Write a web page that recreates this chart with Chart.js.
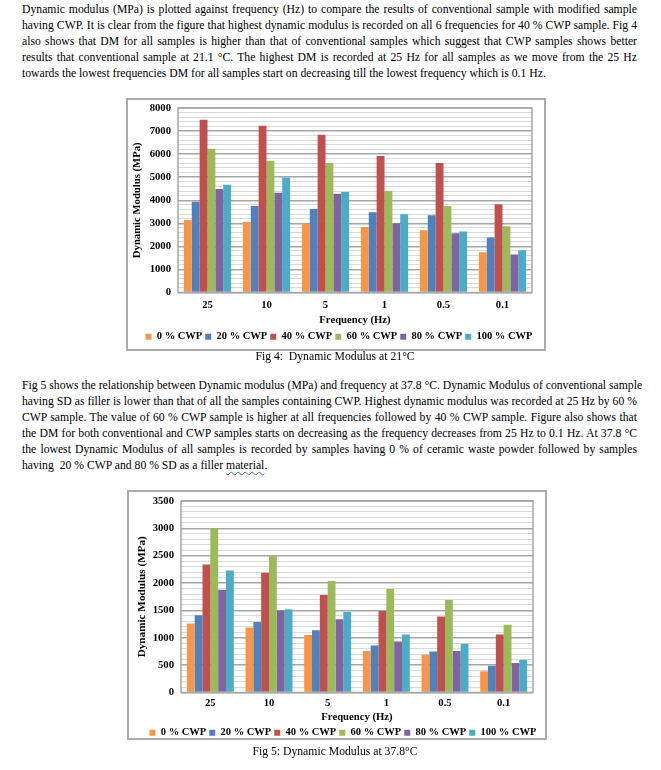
<!DOCTYPE html>
<html><head><meta charset="utf-8">
<script src="https://cdn.jsdelivr.net/npm/chart.js@4.4.1/dist/chart.umd.min.js"></script>
<style>
html,body{margin:0;padding:0;background:#fff;}
body{width:661px;height:770px;position:relative;overflow:hidden;font-family:"Liberation Serif","Times New Roman",serif;color:#000;}
.para{position:absolute;left:22px;width:615px;font-size:11.7px;line-height:16px;}
.para div{text-align:justify;text-align-last:justify;white-space:nowrap;}
.para div.last{text-align-last:left;}
.box{position:absolute;border:2px solid #ABABAB;box-sizing:border-box;}
.cv{position:absolute;}
.cap{position:absolute;left:185px;width:300px;text-align:center;font-size:11.7px;line-height:16px;}
.wavy{text-decoration:underline wavy #4472C4;text-decoration-thickness:1px;text-underline-offset:2px;}
</style>
</head><body>

<div class="para" style="top:2px;">
<div>Dynamic modulus (MPa) is plotted against frequency (Hz) to compare the results of conventional sample with modified sample</div>
<div>having CWP. It is clear from the figure that highest dynamic modulus is recorded on all 6 frequencies for 40 % CWP sample. Fig 4</div>
<div>also shows that DM for all samples is higher than that of conventional samples which suggest that CWP samples shows better</div>
<div>results that conventional sample at 21.1 °C. The highest DM is recorded at 25 Hz for all samples as we move from the 25 Hz</div>
<div class="last">towards the lowest frequencies DM for all samples start on decreasing till the lowest frequency which is 0.1 Hz.</div>
</div>

<div class="box" style="left:126px;top:98px;width:420px;height:253px;"></div>
<canvas id="c1" class="cv" width="416" height="252" style="left:128px;top:100px;"></canvas>
<div class="cap" style="top:349px;">Fig 4:&nbsp; Dynamic Modulus at 21°C</div>

<div class="para" style="top:378px;">
<div>Fig 5 shows the relationship between Dynamic modulus (MPa) and frequency at 37.8 °C. Dynamic Modulus of conventional sample</div>
<div>having SD as filler is lower than that of all the samples containing CWP. Highest dynamic modulus was recorded at 25 Hz by 60 %</div>
<div>CWP sample. The value of 60 % CWP sample is higher at all frequencies followed by 40 % CWP sample. Figure also shows that</div>
<div>the DM for both conventional and CWP samples starts on decreasing as the frequency decreases from 25 Hz to 0.1 Hz. At 37.8 °C</div>
<div>the lowest Dynamic Modulus of all samples is recorded by samples having 0 % of ceramic waste powder followed by samples</div>
<div class="last">having&nbsp; 20 % CWP and 80 % SD as a filler <span class="wavy">material</span>.</div>
</div>

<div class="box" style="left:127px;top:490px;width:420px;height:250px;"></div>
<canvas id="c2" class="cv" width="416" height="256" style="left:129px;top:492px;"></canvas>
<div class="cap" style="top:744px;">Fig 5: Dynamic Modulus at 37.8°C</div>

<script>
// ---- data ----
const categories = ['25', '10', '5', '1', '0.5', '0.1'];
const seriesNames = ['0 % CWP', '20 % CWP', '40 % CWP', '60 % CWP', '80 % CWP', '100 % CWP'];

// Fig 4: Dynamic Modulus at 21°C (MPa)
const fig4_cwp0   = [3140, 3060, 2990, 2840, 2700, 1750];
const fig4_cwp20  = [3930, 3750, 3620, 3480, 3350, 2390];
const fig4_cwp40  = [7490, 7230, 6840, 5920, 5610, 3830];
const fig4_cwp60  = [6230, 5710, 5620, 4400, 3750, 2870];
const fig4_cwp80  = [4490, 4320, 4280, 3000, 2570, 1650];
const fig4_cwp100 = [4670, 4990, 4360, 3390, 2650, 1830];

// Fig 5: Dynamic Modulus at 37.8°C (MPa)
const fig5_cwp0   = [1260, 1190, 1050, 760, 690, 390];
const fig5_cwp20  = [1410, 1290, 1140, 860, 750, 490];
const fig5_cwp40  = [2340, 2190, 1780, 1490, 1390, 1060];
const fig5_cwp60  = [3000, 2490, 2040, 1890, 1690, 1240];
const fig5_cwp80  = [1880, 1500, 1340, 930, 760, 540];
const fig5_cwp100 = [2230, 1520, 1470, 1060, 890, 600];

// axis tick settings
const fig4Axis = {max: 8000, major: 1000, minor: 200};
const fig5Axis = {max: 3500, major: 500, minor: 100};

// ---- style ----
const palette = ['#F79646', '#4F81BD', '#C0504D', '#9BBB59', '#8064A2', '#4BACC6'];
const FONT = '"Liberation Serif","Times New Roman",serif';

const framePlugin = {
  id: 'frame',
  afterLayout(chart, args, opts) {
    const dx = opts.legendShift || 0;
    if (chart.legend) { chart.legend.left += dx; chart.legend.right += dx; }
  },
  afterDatasetsDraw(chart) {
    const a = chart.chartArea, ctx = chart.ctx;
    ctx.save();
    ctx.strokeStyle = '#A6A6A6';
    ctx.lineWidth = 1.5;
    ctx.strokeRect(a.left, a.top, a.right - a.left, a.bottom - a.top);
    ctx.restore();
  }
};

function makeChart(id, series, axis, geo) {
  return new Chart(document.getElementById(id), {
    type: 'bar',
    data: {
      labels: categories,
      datasets: series.map((d, i) => ({
        label: seriesNames[i],
        data: d,
        backgroundColor: palette[i],
        borderWidth: 0,
        categoryPercentage: 0.8,
        barPercentage: 1.0
      }))
    },
    plugins: [framePlugin],
    options: {
      responsive: false,
      animation: false,
      layout: {padding: {left: 0, top: geo.top, right: geo.right, bottom: 0}},
      plugins: {
        frame: {legendShift: geo.legendShift},
        tooltip: {enabled: false},
        legend: {
          position: 'bottom',
          labels: {
            boxWidth: 6, boxHeight: 6, padding: 3,
            color: '#000',
            font: {family: FONT, size: 10.5, weight: 'bold'}
          }
        }
      },
      scales: {
        x: {
          grid: {display: false, drawTicks: false},
          border: {display: false},
          ticks: {color: '#000', padding: geo.xTickPad, font: {family: FONT, size: 10.7, weight: 'bold'}},
          title: {display: true, text: 'Frequency (Hz)', color: '#000', padding: {top: 0, bottom: geo.xTitlePad},
                  font: {family: FONT, size: 10.7, weight: 'bold'}},
          afterFit(s) { s.height = geo.xHeight; }
        },
        y: {
          min: 0, max: axis.max,
          grid: {
            drawTicks: false,
            color: c => (c.tick && c.tick.value % axis.major === 0) ? '#A6A6A6' : '#D9D9D9',
            lineWidth: c => (c.tick && c.tick.value % axis.major === 0) ? 1.5 : 1
          },
          border: {display: false},
          ticks: {
            stepSize: axis.minor, autoSkip: false, color: '#000', padding: 7,
            font: {family: FONT, size: 10.7, weight: 'bold'},
            callback: v => (v % axis.major === 0) ? String(v) : ''
          },
          title: {display: true, text: 'Dynamic Modulus (MPa)', color: '#000', padding: {top: geo.yTitlePad, bottom: 0},
                  font: {family: FONT, size: geo.yTitleSize, weight: 'bold'}},
          afterFit(s) { s.width = geo.yWidth; s.paddingTop = 0; s.paddingBottom = 0; }
        }
      }
    }
  });
}

makeChart('c1', [fig4_cwp0, fig4_cwp20, fig4_cwp40, fig4_cwp60, fig4_cwp80, fig4_cwp100], fig4Axis,
  {top: 8, right: 12, xHeight: 36, xTickPad: 6, xTitlePad: 2, yWidth: 50, yTitlePad: 3, yTitleSize: 10.7, legendShift: 9});
makeChart('c2', [fig5_cwp0, fig5_cwp20, fig5_cwp40, fig5_cwp60, fig5_cwp80, fig5_cwp100], fig5Axis,
  {top: 9, right: 12, xHeight: 32, xTickPad: 4, xTitlePad: 1, yWidth: 52, yTitlePad: 6, yTitleSize: 11.2, legendShift: 12});
</script>
</body></html>
